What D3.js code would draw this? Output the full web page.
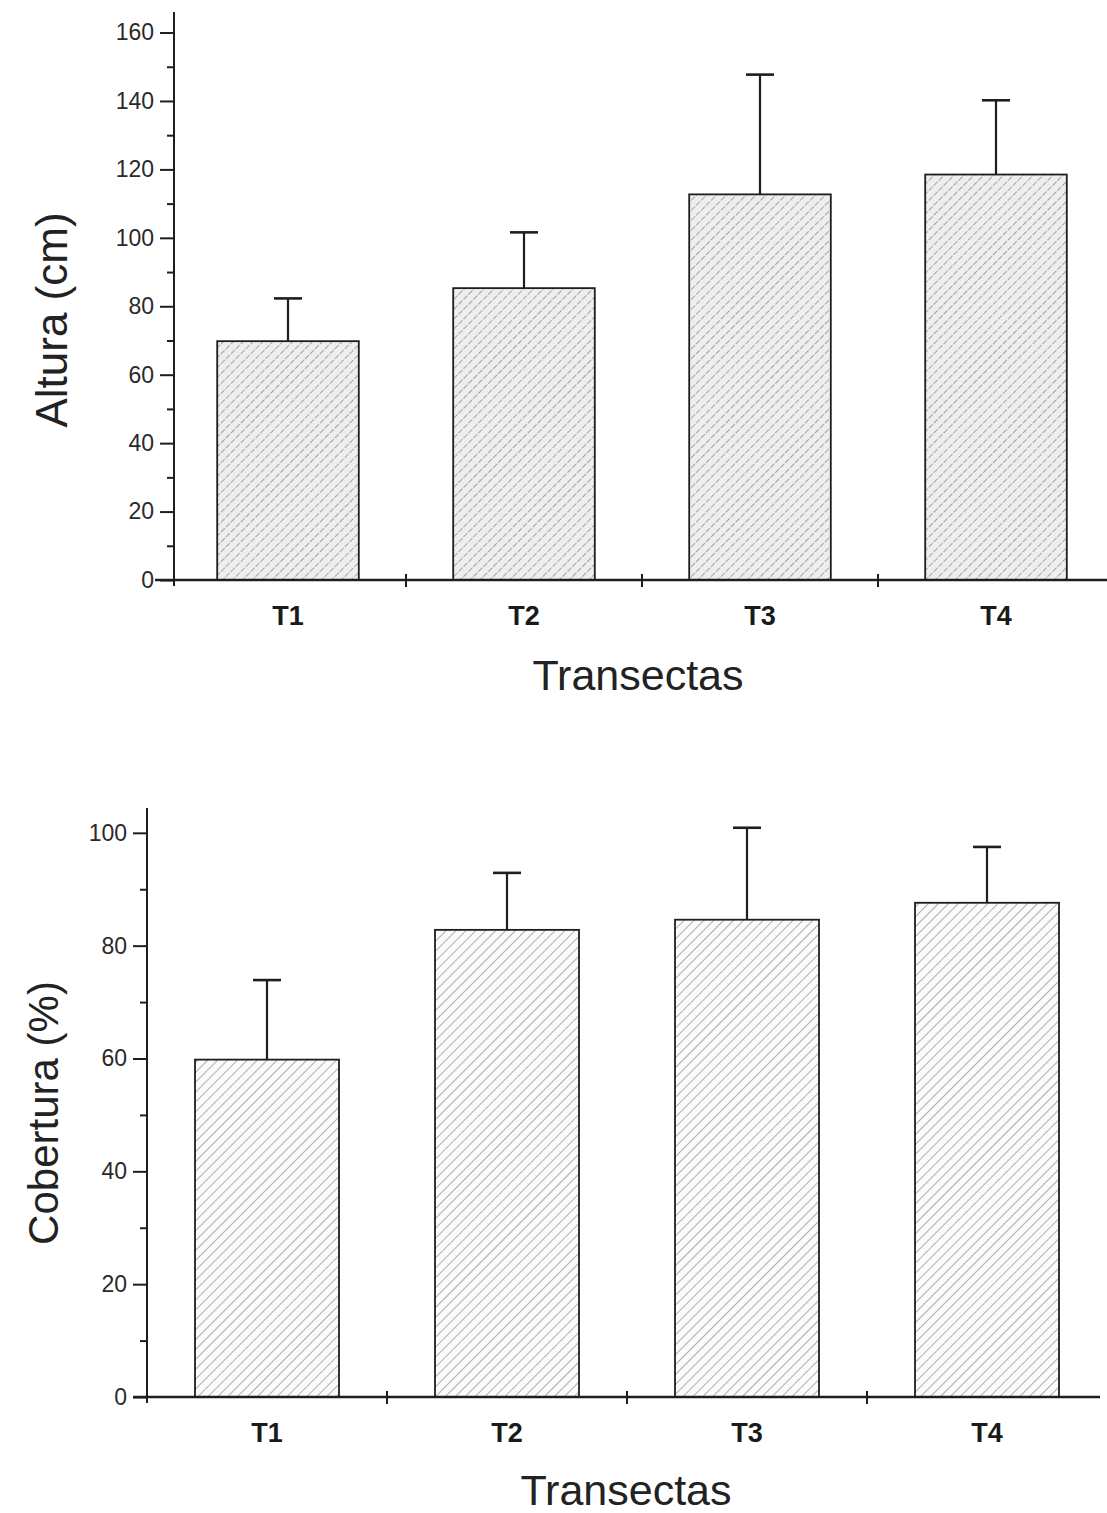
<!DOCTYPE html>
<html>
<head>
<meta charset="utf-8">
<script src="https://cdn.jsdelivr.net/npm/d3@7"></script>
<style>
  body { margin: 0; background: #fff; }
  svg { display: block; font-family: "Liberation Sans", Arial, sans-serif; }
</style>
</head>
<body>
<svg width="1107" height="1513"></svg>
<script>
// data
const transectas = ['T1', 'T2', 'T3', 'T4']
const altura = [69.8, 85.3, 112.7, 118.5]
const alturaErr = [82.3, 101.6, 147.7, 140.2]
const cobertura = [59.8, 82.8, 84.6, 87.6]
const coberturaErr = [73.9, 92.9, 100.9, 97.5]
const alturaTicks = [0, 20, 40, 60, 80, 100, 120, 140, 160]
const coberturaTicks = [0, 20, 40, 60, 80, 100]

const svg = d3.select('svg')
const ink = '#1e1e1e'

const defs = svg.append('defs')
// top chart: dotted grey hatching on a stippled background
const p1 = defs.append('pattern').attr('id', 'hatchA')
  .attr('patternUnits', 'userSpaceOnUse').attr('width', 7).attr('height', 7)
  .attr('patternTransform', 'rotate(45)')
p1.append('rect').attr('width', 7).attr('height', 7).attr('fill', '#eeeeee')
p1.append('line').attr('x1', 0).attr('y1', 0).attr('x2', 0).attr('y2', 7)
  .attr('stroke', '#707070').attr('stroke-width', 1.2).attr('stroke-dasharray', '3,1.5')
// bottom chart: cleaner hatching
const p2 = defs.append('pattern').attr('id', 'hatchB')
  .attr('patternUnits', 'userSpaceOnUse').attr('width', 7).attr('height', 7)
  .attr('patternTransform', 'rotate(45)')
p2.append('rect').attr('width', 7).attr('height', 7).attr('fill', '#fbfbfb')
p2.append('line').attr('x1', 0).attr('y1', 0).attr('x2', 0).attr('y2', 7)
  .attr('stroke', '#6e6e6e').attr('stroke-width', 1.1)

function drawChart(opt) {
  const g = svg.append('g')
  const x = d3.scaleBand().domain(transectas)
    .range([opt.b0, opt.b1]).paddingInner(0.4).paddingOuter(0.2)
  const y = d3.scaleLinear().domain([0, opt.yMax]).range([opt.y0, opt.yTop])
  const step = x.step()

  // bars
  g.selectAll('rect.bar').data(transectas).join('rect')
    .attr('class', 'bar')
    .attr('x', d => x(d))
    .attr('width', x.bandwidth())
    .attr('y', (d, i) => y(opt.values[i]))
    .attr('height', (d, i) => y(0) - y(opt.values[i]))
    .attr('fill', `url(#${opt.pattern})`)
    .attr('stroke', ink).attr('stroke-width', 1.8)

  // error bars (upper only)
  const eb = g.selectAll('g.err').data(transectas).join('g').attr('class', 'err')
  eb.append('line')
    .attr('x1', d => x(d) + x.bandwidth() / 2).attr('x2', d => x(d) + x.bandwidth() / 2)
    .attr('y1', (d, i) => y(opt.values[i])).attr('y2', (d, i) => y(opt.errs[i]))
    .attr('stroke', ink).attr('stroke-width', 2.2)
  eb.append('line')
    .attr('x1', d => x(d) + x.bandwidth() / 2 - 14).attr('x2', d => x(d) + x.bandwidth() / 2 + 14)
    .attr('y1', (d, i) => y(opt.errs[i])).attr('y2', (d, i) => y(opt.errs[i]))
    .attr('stroke', ink).attr('stroke-width', 2.6)

  // y axis: majors labelled, minors in between
  const yAxis = g.append('g').attr('transform', `translate(${opt.x0},0)`)
    .call(d3.axisLeft(y).tickValues(opt.ticks).tickSize(14).tickPadding(6).tickSizeOuter(0))
  const minors = opt.ticks.slice(0, -1).map(t => t + (opt.ticks[1] - opt.ticks[0]) / 2)
  const yMinor = g.append('g').attr('transform', `translate(${opt.x0},0)`)
    .call(d3.axisLeft(y).tickValues(minors).tickSize(7).tickFormat(''))
  yMinor.select('.domain').remove()
  yAxis.select('.domain').attr('d', `M0,${opt.y0 + 6}V${opt.yTop}`)
  ;[yAxis, yMinor].forEach(a => a.selectAll('line, path').attr('stroke', ink).attr('stroke-width', 2))
  yAxis.selectAll('text').attr('font-size', 23).attr('fill', '#2a2a2a')

  // x axis line with small crossing ticks between categories
  g.append('line').attr('x1', opt.axisL).attr('x2', opt.axisR)
    .attr('y1', y(0)).attr('y2', y(0)).attr('stroke', ink).attr('stroke-width', 2.4)
  const between = transectas.slice(0, -1).map(d => x(d) + x.bandwidth() + (step - x.bandwidth()) / 2)
  g.selectAll('line.xt').data(between).join('line').attr('class', 'xt')
    .attr('x1', d => d).attr('x2', d => d)
    .attr('y1', y(0) - 6).attr('y2', y(0) + 7)
    .attr('stroke', ink).attr('stroke-width', 2)

  // category labels
  g.selectAll('text.cat').data(transectas).join('text').attr('class', 'cat')
    .attr('x', d => x(d) + x.bandwidth() / 2)
    .attr('y', y(0) + 45)
    .attr('text-anchor', 'middle')
    .attr('font-size', 27).attr('font-weight', 'bold').attr('fill', '#1a1a1a')
    .text(d => d)

  // axis titles
  g.append('text')
    .attr('x', opt.xTitleX).attr('y', opt.xTitleY)
    .attr('text-anchor', 'middle').attr('font-size', 43).attr('fill', '#222')
    .text('Transectas')
  g.append('text')
    .attr('transform', `translate(${opt.yTitleX},${opt.yTitleY}) rotate(-90)`)
    .attr('text-anchor', 'middle').attr('font-size', opt.yTitleSize).attr('fill', '#222')
    .text(opt.yTitle)
}

drawChart({
  values: altura, errs: alturaErr, ticks: alturaTicks, pattern: 'hatchA',
  x0: 174, b0: 170, b1: 1114, y0: 580, yTop: 12, yMax: 166,
  axisL: 155, axisR: 1107,
  xTitleX: 638, xTitleY: 690,
  yTitle: 'Altura (cm)', yTitleX: 67, yTitleY: 320, yTitleSize: 44
})

drawChart({
  values: cobertura, errs: coberturaErr, ticks: coberturaTicks, pattern: 'hatchB',
  x0: 147, b0: 147, b1: 1107, y0: 1397, yTop: 808, yMax: 104.4,
  axisL: 133, axisR: 1100,
  xTitleX: 626, xTitleY: 1505,
  yTitle: 'Cobertura (%)', yTitleX: 58, yTitleY: 1113, yTitleSize: 42
})
</script>
</body>
</html>
